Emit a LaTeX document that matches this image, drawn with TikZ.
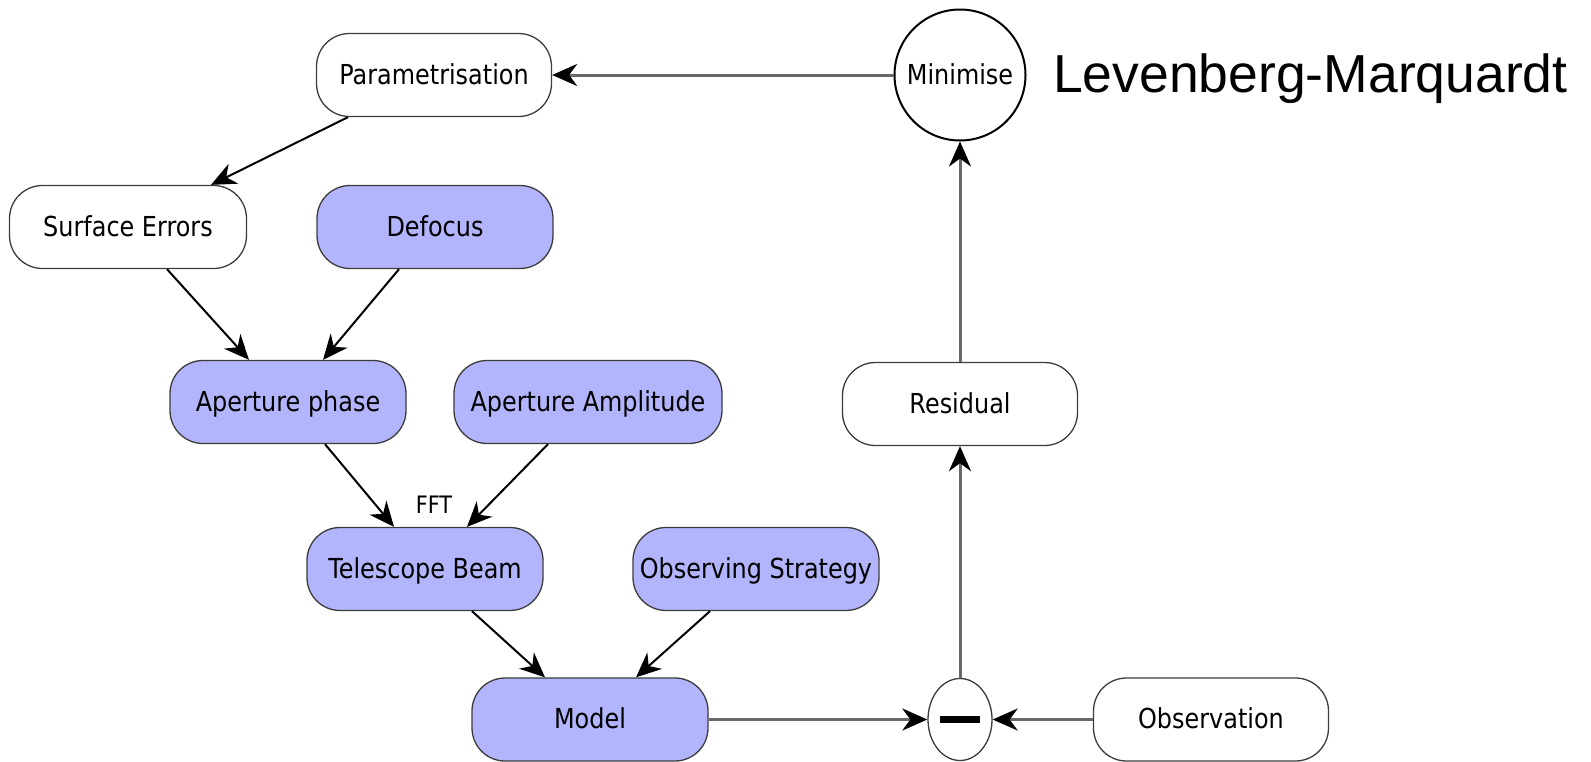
\documentclass[tikz,border=0pt]{standalone}
\usepackage{fontspec}
\setmainfont{DejaVu Sans}[FakeStretch=0.87]
\newfontfamily\lmfont{Liberation Sans}
\usetikzlibrary{arrows.meta,shapes.geometric,calc}
\definecolor{boxblue}{RGB}{178,181,252}
\definecolor{boxline}{RGB}{60,60,60}
\definecolor{lineg}{RGB}{105,105,105}
\begin{document}
\begin{tikzpicture}[x=1pt,y=-1pt,
  nodefont/.style={font=\fontsize{27.5}{30}\selectfont},
  box/.style={draw=boxline,line width=1.3pt,rounded corners=33pt,minimum height=83pt,
    inner sep=0pt,text height=20pt,text depth=2pt,nodefont},
  bluebox/.style={box,fill=boxblue},
  tip/.style={-{Stealth[length=25pt,width=22pt,inset=8pt,color=black]}},
  diag/.style={tip,line width=2pt,black},
  straight/.style={tip,line width=3pt,lineg},
]
\useasboundingbox (0,0) rectangle (1591,761);

% nodes
\node[box,minimum width=235pt] (param) at (434,75) {Parametrisation};
\node[draw=black,line width=2pt,circle,minimum size=131pt,inner sep=0pt,
  text height=20pt,text depth=2pt,nodefont] (minimise) at (960,75) {Minimise};
\node[anchor=base west,inner sep=0pt,font=\lmfont\fontsize{53.5}{60}\selectfont] (lm) at (1053,92) {Levenberg-Marquardt};

\node[box,minimum width=237pt] (surf) at (128,227) {Surface Errors};
\node[bluebox,minimum width=236pt] (defocus) at (435,227) {Defocus};

\node[bluebox,minimum width=236pt] (aphase) at (288,402) {Aperture phase};
\node[bluebox,minimum width=268pt] (aamp) at (588,402) {Aperture Amplitude};

\node[inner sep=0pt,font=\fontsize{24}{26}\selectfont] (fft) at (434,505) {FFT};

\node[bluebox,minimum width=236pt] (tbeam) at (425,569) {Telescope Beam};
\node[bluebox,minimum width=246pt] (ostrat) at (756,569) {Observing Strategy};

\node[bluebox,minimum width=236pt] (model) at (590,719.5) {Model};
\node[draw=boxline,line width=1.3pt,ellipse,minimum width=64pt,minimum height=82pt,inner sep=0pt] (minus) at (960,719.5) {\rule[-3.5pt]{40pt}{7pt}};
\node[box,minimum width=235pt] (observation) at (1211,719.5) {Observation};

\node[box,minimum width=235pt] (residual) at (960,404) {Residual};

% connectors
\draw[straight] (minimise.west) -- (param.east);
\draw[diag] ([xshift=-86pt]param.south) -- ([xshift=83pt]surf.north);
\draw[diag] ([xshift=39pt]surf.south) -- ([xshift=-39pt]aphase.north);
\draw[diag] ([xshift=-36pt]defocus.south) -- ([xshift=35pt]aphase.north);
\draw[diag] ([xshift=37pt]aphase.south) -- ([xshift=-31pt]tbeam.north);
\draw[diag] ([xshift=-40pt]aamp.south) -- ([xshift=42pt]tbeam.north);
\draw[diag] ([xshift=47pt]tbeam.south) -- ([xshift=-45pt]model.north);
\draw[diag] ([xshift=-46pt]ostrat.south) -- ([xshift=46pt]model.north);
\draw[straight] (model.east) -- (minus.west);
\draw[straight] (observation.west) -- (minus.east);
\draw[straight] (minus.north) -- (residual.south);
\draw[straight] (residual.north) -- (minimise.south);
\end{tikzpicture}
\end{document}
